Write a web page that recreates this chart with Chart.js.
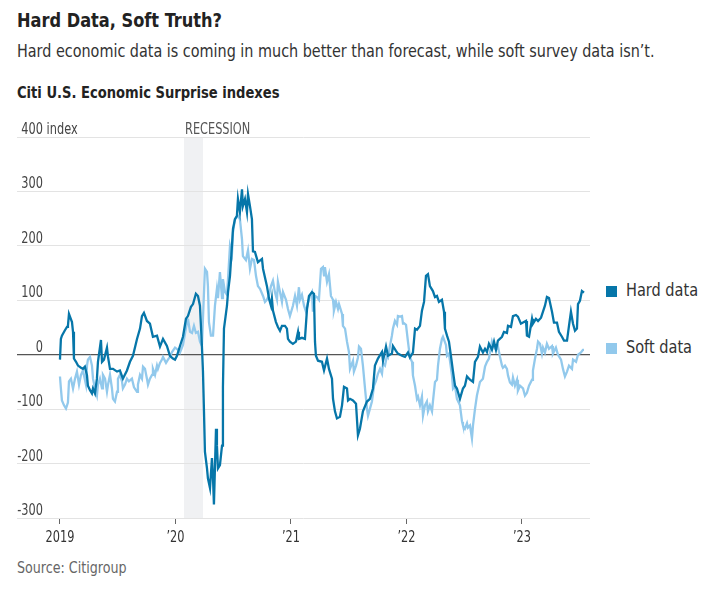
<!DOCTYPE html>
<html>
<head>
<meta charset="utf-8">
<script src="https://cdn.jsdelivr.net/npm/chart.js@4.4.0/dist/chart.umd.min.js"></script>
<style>
  html, body { margin:0; padding:0; background:#fff; }
  body { width:718px; height:594px; position:relative; overflow:hidden;
         font-family:'DejaVu Sans Condensed','Liberation Sans Narrow',sans-serif; color:#222; }
  .t { position:absolute; left:17px; white-space:nowrap; line-height:1; transform-origin:0 0; }
  #title { top:10px; font-size:20px; font-weight:bold; color:#222; transform:scaleX(0.9); }
  #sub { top:43px; font-size:17px; color:#333; transform:scaleX(0.94); }
  #head { top:85px; font-size:16px; font-weight:bold; color:#222; transform:scaleX(0.91); }
  #source { top:561px; font-size:15px; color:#666; transform:scaleX(0.94); }
  .lg { position:absolute; font-size:17px; color:#333; line-height:1; white-space:nowrap; transform-origin:0 0; transform:scaleX(0.95); }
  .sq { position:absolute; width:11px; height:11px; }
  #wrap { position:absolute; left:0; top:110px; width:718px; height:450px; }
</style>
</head>
<body>
<div class="t" id="title">Hard Data, Soft Truth?</div>
<div class="t" id="sub">Hard economic data is coming in much better than forecast, while soft survey data isn’t.</div>
<div class="t" id="head">Citi U.S. Economic Surprise indexes</div>
<div class="t" id="source">Source: Citigroup</div>
<div class="sq" id="sqHard" style="left:606px;top:286px;"></div>
<div class="lg" id="lgHard" style="left:626px;top:282px;">Hard data</div>
<div class="sq" id="sqSoft" style="left:606px;top:343px;"></div>
<div class="lg" id="lgSoft" style="left:626px;top:339px;">Soft data</div>
<div id="wrap"><canvas id="c" width="718" height="450"></canvas></div>
<script>
// ---- data (dates as decimal years) ----
const seriesNames = ['Hard data', 'Soft data'];
const seriesColors = ['#0676a9', '#92c9ec'];

const hardDates = [
2019.000,2019.008,2019.017,2019.043,2019.061,2019.069,2019.078,2019.104,2019.113,2019.121,2019.139,2019.156,2019.182,2019.199,2019.216,2019.234,2019.242,2019.260,2019.277,2019.286,2019.303,2019.320,2019.329,2019.355,2019.364,2019.381,2019.407,2019.416,2019.433,2019.459,2019.494,2019.519,2019.545,2019.580,2019.606,2019.632,2019.667,2019.693,2019.710,2019.727,2019.753,2019.779,2019.805,2019.840,2019.866,2019.892,2019.926,2019.952,2019.978,2019.996,
2020.013,2020.039,2020.065,2020.091,2020.108,2020.134,2020.152,2020.177,2020.195,2020.212,2020.229,2020.238,2020.247,2020.255,2020.273,2020.281,2020.299,2020.316,2020.325,2020.333,2020.351,2020.359,2020.368,2020.385,2020.403,2020.411,2020.420,2020.446,2020.455,2020.472,2020.489,2020.498,2020.515,2020.532,2020.541,2020.558,2020.576,2020.584,2020.602,2020.619,2020.628,2020.645,2020.662,2020.671,2020.688,2020.714,2020.749,2020.758,2020.792,2020.810,2020.827,2020.835,2020.844,2020.870,2020.887,2020.905,2020.922,2020.948,2020.965,2020.974,2020.991,
2021.017,2021.043,2021.061,2021.069,2021.095,2021.121,2021.139,2021.156,2021.182,2021.199,2021.208,2021.216,2021.234,2021.268,2021.286,2021.312,2021.329,2021.355,2021.364,2021.381,2021.398,2021.424,2021.442,2021.459,2021.485,2021.494,2021.511,2021.537,2021.563,2021.580,2021.597,2021.623,2021.658,2021.684,2021.710,2021.727,2021.753,2021.788,2021.797,2021.823,2021.840,2021.874,2021.883,2021.909,2021.926,2021.961,2021.987,
2022.013,2022.030,2022.056,2022.074,2022.091,2022.117,2022.134,2022.152,2022.169,2022.186,2022.203,2022.229,2022.247,2022.264,2022.281,2022.307,2022.325,2022.333,2022.351,2022.368,2022.385,2022.403,2022.420,2022.437,2022.463,2022.489,2022.506,2022.524,2022.550,2022.576,2022.593,2022.619,2022.636,2022.662,2022.680,2022.697,2022.714,2022.740,2022.758,2022.775,2022.792,2022.827,2022.844,2022.870,2022.879,2022.905,2022.922,2022.948,2022.965,2022.991,
2023.009,2023.035,2023.043,2023.061,2023.087,2023.095,2023.121,2023.139,2023.165,2023.182,2023.199,2023.216,2023.234,2023.260,2023.277,2023.303,2023.320,2023.346,2023.364,2023.390,2023.407,2023.424,2023.442,2023.459,2023.476,2023.485,2023.502,2023.519,2023.537];

const hardValues = [
-9,29,35,45,51,53,75,60,42,-7,-13,-20,-24,-26,-22,-38,-57,-65,-71,-62,-71,-44,-13,27,-13,-9,13,-4,-26,-26,-31,-29,-44,-29,-13,-2,29,48,71,77,62,57,33,35,15,29,16,-2,-7,-9,
-2,16,33,66,71,88,93,112,108,90,16,-30,-105,-178,-209,-227,-245,-190,-227,-275,-136,-167,-209,-203,-167,-60,48,90,115,145,200,231,249,255,286,262,304,273,286,262,295,273,249,190,189,170,176,158,126,103,90,103,81,60,51,44,53,53,48,29,24,
20,24,42,29,31,29,84,108,115,112,24,-2,-11,-13,-29,-7,-26,-44,-81,-104,-117,-114,-93,-59,-62,-84,-81,-84,-90,-148,-136,-104,-86,-81,-62,-20,-7,5,-11,15,-2,2,16,7,2,-2,-4,
4,-5,4,48,46,53,81,97,145,148,126,117,106,108,97,101,79,48,35,24,-2,-31,-57,-62,-81,-62,-57,-40,-46,-50,-13,-4,15,4,11,5,20,9,24,9,26,33,42,40,53,51,71,73,70,57,
59,62,35,33,66,57,66,62,68,79,90,106,104,79,59,59,42,33,26,26,53,79,57,44,48,93,99,117,114];

const softDates = [
2019.000,2019.008,2019.017,2019.035,2019.052,2019.069,2019.078,2019.095,2019.113,2019.130,2019.147,2019.165,2019.182,2019.199,2019.225,2019.234,2019.242,2019.260,2019.277,2019.286,2019.303,2019.320,2019.329,2019.346,2019.364,2019.372,2019.390,2019.407,2019.416,2019.433,2019.450,2019.459,2019.476,2019.494,2019.502,2019.519,2019.537,2019.545,2019.563,2019.580,2019.597,2019.623,2019.641,2019.667,2019.675,2019.693,2019.710,2019.719,2019.736,2019.753,2019.762,2019.779,2019.797,2019.805,2019.823,2019.840,2019.848,2019.866,2019.883,2019.892,2019.918,2019.935,2019.952,2019.970,2019.996,
2020.022,2020.039,2020.065,2020.100,2020.108,2020.126,2020.143,2020.160,2020.177,2020.195,2020.212,2020.229,2020.238,2020.255,2020.273,2020.281,2020.290,2020.307,2020.325,2020.342,2020.359,2020.368,2020.385,2020.403,2020.411,2020.429,2020.446,2020.455,2020.472,2020.489,2020.498,2020.515,2020.541,2020.558,2020.576,2020.584,2020.610,2020.628,2020.645,2020.662,2020.680,2020.697,2020.714,2020.732,2020.758,2020.775,2020.792,2020.810,2020.827,2020.844,2020.861,2020.879,2020.887,2020.905,2020.922,2020.931,2020.957,2020.974,2020.991,
2021.017,2021.035,2021.052,2021.069,2021.078,2021.095,2021.113,2021.130,2021.147,2021.165,2021.182,2021.190,2021.208,2021.225,2021.242,2021.260,2021.277,2021.286,2021.294,2021.312,2021.329,2021.346,2021.364,2021.372,2021.390,2021.407,2021.416,2021.442,2021.450,2021.468,2021.485,2021.502,2021.511,2021.537,2021.545,2021.563,2021.580,2021.589,2021.606,2021.623,2021.641,2021.658,2021.667,2021.684,2021.701,2021.719,2021.736,2021.753,2021.771,2021.788,2021.797,2021.814,2021.831,2021.840,2021.857,2021.874,2021.883,2021.900,2021.918,2021.926,2021.944,2021.961,2021.970,2021.978,2021.996,
2022.013,2022.030,2022.048,2022.056,2022.074,2022.091,2022.100,2022.117,2022.134,2022.143,2022.160,2022.177,2022.186,2022.203,2022.221,2022.229,2022.247,2022.264,2022.273,2022.290,2022.307,2022.316,2022.342,2022.351,2022.368,2022.394,2022.403,2022.420,2022.437,2022.463,2022.481,2022.489,2022.506,2022.524,2022.532,2022.550,2022.567,2022.576,2022.593,2022.610,2022.636,2022.662,2022.680,2022.697,2022.714,2022.740,2022.749,2022.775,2022.792,2022.810,2022.827,2022.835,2022.853,2022.870,2022.879,2022.896,2022.913,2022.922,2022.939,2022.957,2022.965,2022.983,
2023.009,2023.026,2023.043,2023.061,2023.087,2023.095,2023.113,2023.130,2023.139,2023.156,2023.173,2023.182,2023.199,2023.216,2023.234,2023.260,2023.268,2023.294,2023.312,2023.338,2023.355,2023.372,2023.390,2023.407,2023.433,2023.442,2023.468,2023.485,2023.511,2023.528,2023.537];

const softValues = [
-40,-62,-84,-93,-99,-88,-49,-44,-62,-44,-31,-55,-37,-29,-55,-20,-9,-4,-20,-44,-62,-75,-55,-44,-62,-37,-44,-68,-55,-37,-62,-81,-86,-68,-44,-37,-49,-62,-55,-44,-49,-44,-60,-68,-55,-37,-44,-22,-26,-44,-55,-44,-37,-26,-37,-20,-26,-15,-9,-4,-15,-9,-4,5,13,
9,4,18,60,66,42,40,53,40,42,24,16,66,158,152,126,60,35,35,90,121,104,152,104,139,115,110,139,200,185,225,249,255,249,212,181,174,192,158,176,174,145,126,121,108,97,101,110,126,136,115,101,134,115,97,115,101,84,71,
90,108,90,124,101,110,90,79,95,108,115,79,108,106,101,158,161,146,161,134,148,108,101,81,97,84,93,75,53,48,24,5,-26,-11,-31,-20,-5,15,11,-20,-62,-99,-112,-99,-86,-57,-48,-35,-26,-35,-16,-20,-2,-5,16,35,48,62,55,71,70,71,57,58,55,
24,-5,-13,-38,-57,-81,-77,-93,-77,-112,-93,-86,-104,-93,-104,-86,-50,-46,-20,11,29,33,18,-2,2,-38,-62,-57,-81,-93,-123,-130,-136,-126,-134,-130,-154,-130,-100,-75,-50,-44,-22,-13,-7,24,18,9,15,-4,-20,-24,-20,-26,-38,-51,-55,-42,-57,-46,-66,-57,
-62,-75,-70,-57,-46,-29,-7,11,24,20,2,13,4,20,11,16,2,13,0,-9,-26,-40,-31,-20,-26,-9,-13,0,4,9,9];

const yearTicks = [2019, 2020, 2021, 2022, 2023];
const yearLabels = ['2019', '’20', '’21', '’22', '’23'];
const yTickValues = [-300, -200, -100, 0, 100, 200, 300, 400];
const yTickLabels = ['-300', '-200', '-100', '0', '100', '200', '300', '400'];
const yUnit = 'index';
const recession = [2020.074, 2020.238];
const recessionLabel = 'RECESSION';

// ---- chart ----
const FONT = "'DejaVu Sans Condensed','Liberation Sans Narrow',sans-serif";
const SX = 0.84;
document.getElementById('sqHard').style.background = seriesColors[0];
document.getElementById('sqSoft').style.background = seriesColors[1];

const toPoints = (xs, ys) => xs.map((x, i) => ({x: x, y: ys[i]}));

function narrowText(ctx, text, x, y, align) {
  ctx.save();
  ctx.translate(x, y);
  ctx.scale(SX, 1);
  ctx.textAlign = align;
  ctx.fillText(text, 0, 0);
  ctx.restore();
}

const decor = {
  id: 'decor',
  beforeDraw(chart) {
    const {ctx, chartArea, scales} = chart;
    const x0 = scales.x.getPixelForValue(recession[0]);
    const x1 = scales.x.getPixelForValue(recession[1]);
    ctx.save();
    ctx.fillStyle = '#f0f1f3';
    ctx.fillRect(x0, chartArea.top, x1 - x0, chartArea.bottom - chartArea.top);
    ctx.restore();
  },
  afterDraw(chart) {
    const {ctx, chartArea, scales} = chart;
    ctx.save();
    ctx.font = '15px ' + FONT;
    ctx.textBaseline = 'alphabetic';
    ctx.fillStyle = '#444';
    const rightX = chartArea.left + 26;
    yTickValues.forEach((v, i) => {
      const y = scales.y.getPixelForValue(v) - 3;
      narrowText(ctx, yTickLabels[i], rightX, y, 'right');
      if (i === yTickValues.length - 1) {
        narrowText(ctx, ' ' + yUnit, rightX, y, 'left');
      }
    });
    ctx.fillStyle = '#333';
    yearTicks.forEach((v, i) => {
      narrowText(ctx, yearLabels[i], scales.x.getPixelForValue(v), chartArea.bottom + 24, 'center');
    });
    ctx.fillStyle = '#555';
    narrowText(ctx, recessionLabel, scales.x.getPixelForValue(recession[0]) + 1, chartArea.top - 3, 'left');
    ctx.restore();
  }
};

new Chart(document.getElementById('c'), {
  type: 'line',
  data: {
    datasets: [
      { label: seriesNames[0], data: toPoints(hardDates, hardValues), borderColor: seriesColors[0],
        borderWidth: 2.3, pointRadius: 0, tension: 0, fill: false },
      { label: seriesNames[1], data: toPoints(softDates, softValues), borderColor: seriesColors[1],
        borderWidth: 2.3, pointRadius: 0, tension: 0, fill: false }
    ]
  },
  options: {
    responsive: false,
    animation: false,
    events: [],
    layout: { padding: { top: 27, left: 17, right: 128, bottom: 0 } },
    plugins: { legend: { display: false }, tooltip: { enabled: false } },
    scales: {
      x: {
        type: 'linear', min: 2018.628, max: 2023.589,
        afterBuildTicks: s => { s.ticks = yearTicks.map(v => ({value: v})); },
        afterFit: s => { s.height = 42; },
        ticks: { display: false },
        grid: { display: true, drawOnChartArea: false, drawTicks: true, tickLength: 6, color: '#666', lineWidth: 1 },
        border: { display: false }
      },
      y: {
        type: 'linear', min: -300, max: 400,
        afterBuildTicks: s => { s.ticks = yTickValues.map(v => ({value: v})); },
        afterFit: s => { s.width = 0; },
        ticks: { display: false },
        grid: { drawTicks: false, color: c => (c.tick && c.tick.value === 0) ? '#555' : '#e3e3e3',
                lineWidth: c => (c.tick && c.tick.value === 0) ? 1.2 : 1 },
        border: { display: false }
      }
    }
  },
  plugins: [decor]
});
</script>
</body>
</html>
